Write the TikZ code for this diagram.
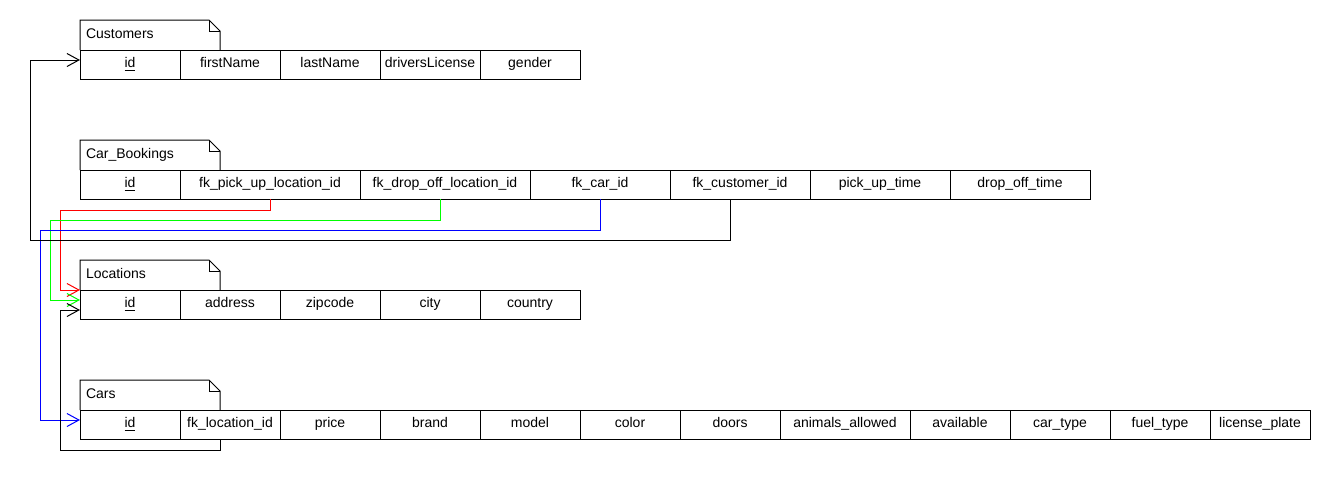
\documentclass[tikz,border=0pt]{standalone}
\usepackage{fontspec}
\setmainfont{Liberation Sans}
\usetikzlibrary{positioning}
\usetikzlibrary{arrows.meta}

% title tab with folded corner
\newcommand{\notetab}[1]{%
	\draw (#1.south west) -- (#1.north west) -- ([xshift=-8.25pt]#1.north east) -- ([yshift=-8.25pt]#1.north east) -- (#1.south east);
	\draw ([xshift=-8.25pt]#1.north east) |- ([yshift=-8.25pt]#1.north east);
}

\begin{document}
\begin{tikzpicture}[x=0.75pt, y=-0.75pt, >={Straight Barb[length=9pt, width=9.75pt]}, line width=0.75pt, font=\fontsize{10.5}{12}\selectfont]
    \tikzstyle{cell}=[draw=black, rectangle, minimum width=75pt, minimum height=21.75pt, inner sep=0pt, outer sep=0pt, text height=7.5pt, text depth=2.5pt]
    \tikzstyle{wide}=[minimum width=#1]
    \tikzstyle{tab}=[rectangle, minimum width=105pt, minimum height=22.5pt, inner xsep=4.5pt, inner ysep=0pt, text width=96pt, text height=7.5pt, text depth=3pt, align=left, anchor=south west, outer sep=0pt]
    \tikzstyle{link}=[->]

    \useasboundingbox (0,0) rectangle (1330,490);

    % Customers
    \node[cell, anchor=north west] (cu_id) at (80,50) {\underline{id}};
    \node[cell, right=0pt of cu_id] (cu_first) {firstName};
    \node[cell, right=0pt of cu_first] (cu_last) {lastName};
    \node[cell, right=0pt of cu_last] (cu_lic) {driversLicense};
    \node[cell, right=0pt of cu_lic] (cu_gender) {gender};
    \node[tab] (cu) at (cu_id.north west) {Customers};
    \notetab{cu}

    % Car_Bookings
    \node[cell, anchor=north west] (cb_id) at (80,170) {\underline{id}};
    \node[cell, wide=135pt, right=0pt of cb_id] (cb_pick) {fk\_pick\_up\_location\_id};
    \node[cell, wide=127.5pt, right=0pt of cb_pick] (cb_drop) {fk\_drop\_off\_location\_id};
    \node[cell, wide=105pt, right=0pt of cb_drop] (cb_car) {fk\_car\_id};
    \node[cell, wide=105pt, right=0pt of cb_car] (cb_cust) {fk\_customer\_id};
    \node[cell, wide=105pt, right=0pt of cb_cust] (cb_putime) {pick\_up\_time};
    \node[cell, wide=105pt, right=0pt of cb_putime] (cb_dotime) {drop\_off\_time};
    \node[tab] (cb) at (cb_id.north west) {Car\_Bookings};
    \notetab{cb}

    % Locations
    \node[cell, anchor=north west] (lo_id) at (80,290) {\underline{id}};
    \node[cell, right=0pt of lo_id] (lo_addr) {address};
    \node[cell, right=0pt of lo_addr] (lo_zip) {zipcode};
    \node[cell, right=0pt of lo_zip] (lo_city) {city};
    \node[cell, right=0pt of lo_city] (lo_country) {country};
    \node[tab] (lo) at (lo_id.north west) {Locations};
    \notetab{lo}

    % Cars
    \node[cell, anchor=north west] (ca_id) at (80,410) {\underline{id}};
    \node[cell, right=0pt of ca_id] (ca_loc) {fk\_location\_id};
    \node[cell, right=0pt of ca_loc] (ca_price) {price};
    \node[cell, right=0pt of ca_price] (ca_brand) {brand};
    \node[cell, right=0pt of ca_brand] (ca_model) {model};
    \node[cell, right=0pt of ca_model] (ca_color) {color};
    \node[cell, right=0pt of ca_color] (ca_doors) {doors};
    \node[cell, wide=97.5pt, right=0pt of ca_doors] (ca_animals) {animals\_allowed};
    \node[cell, right=0pt of ca_animals] (ca_avail) {available};
    \node[cell, right=0pt of ca_avail] (ca_type) {car\_type};
    \node[cell, right=0pt of ca_type] (ca_fuel) {fuel\_type};
    \node[cell, right=0pt of ca_fuel] (ca_plate) {license\_plate};
    \node[tab] (ca) at (ca_id.north west) {Cars};
    \notetab{ca}

    % foreign keys
    \draw[link, red] (cb_pick.south) -- ++(0,11) -| ([xshift=-15pt]lo_id.north west) -- (lo_id.north west);
    \draw[link, green] ([xshift=60pt]cb_drop.south west) -- ++(0,21) -| ([xshift=-22.5pt, yshift=-7.5pt]lo_id.north west) -- ([yshift=-7.5pt]lo_id.north west);
    \draw[link, blue] (cb_car.south) -- ++(0,31) -| ([xshift=-30pt, yshift=-7.5pt]ca_id.north west) -- ([yshift=-7.5pt]ca_id.north west);
    \draw[link] ([xshift=45pt]cb_cust.south west) -- ++(0,41) -| ([xshift=-37.5pt, yshift=-7.5pt]cu_id.north west) -- ([yshift=-7.5pt]cu_id.north west);
    \draw[link] ([xshift=30pt]ca_loc.south west) -- ++(0,11) -| ([xshift=-15pt, yshift=-15pt]lo_id.north west) -- ([yshift=-15pt]lo_id.north west);
\end{tikzpicture}
\end{document}
